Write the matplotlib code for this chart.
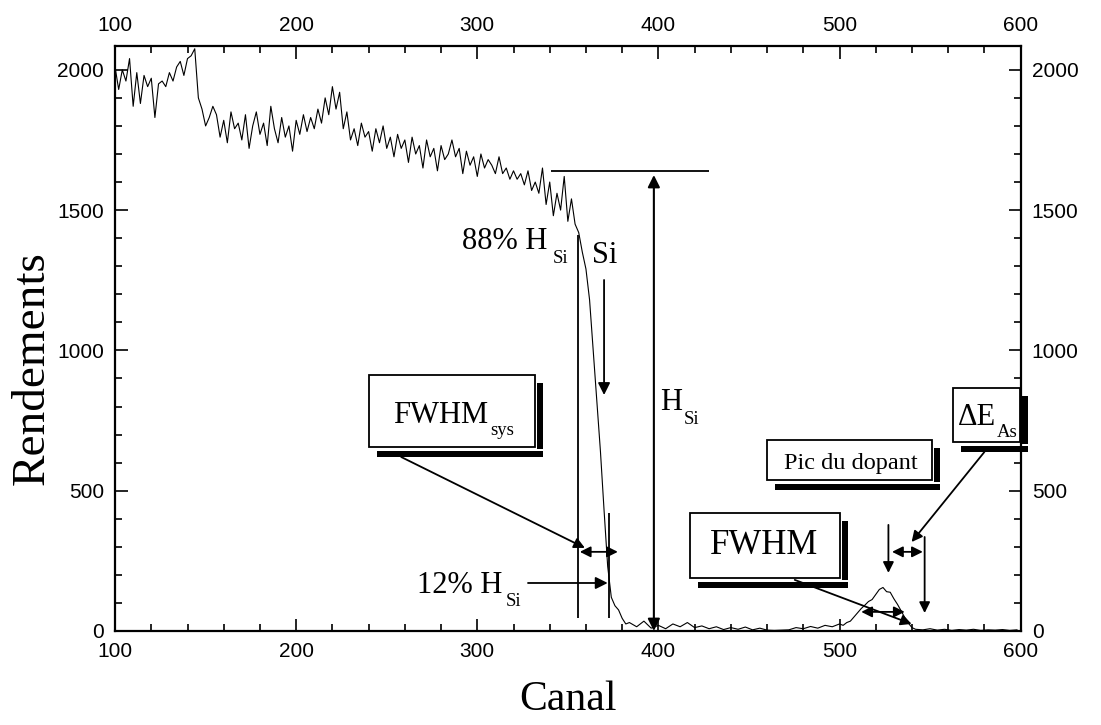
import numpy as np
import matplotlib
matplotlib.use('Agg')
import matplotlib.pyplot as plt
from matplotlib.patches import Rectangle

# spectre RBS : canaux 100-382 (pas de 2)
canal_si = np.arange(100, 384, 2)
rendement_si = [
    2010, 1930, 2000, 1960, 2040, 1870, 1990, 1880, 1980, 1940,
    1970, 1830, 1950, 1960, 1940, 1990, 1960, 2010, 2030, 1980,
    2040, 2050, 2075, 1900, 1860, 1800, 1830, 1870, 1840, 1760,
    1820, 1740, 1850, 1790, 1810, 1750, 1840, 1720, 1800, 1850,
    1770, 1810, 1730, 1870, 1790, 1740, 1830, 1760, 1800, 1710,
    1820, 1770, 1840, 1780, 1830, 1790, 1860, 1810, 1900, 1840,
    1940, 1860, 1920, 1790, 1850, 1750, 1790, 1730, 1810, 1760,
    1780, 1710, 1790, 1740, 1800, 1720, 1760, 1690, 1770, 1720,
    1750, 1670, 1760, 1700, 1730, 1650, 1750, 1690, 1720, 1640,
    1730, 1680, 1700, 1750, 1690, 1720, 1630, 1710, 1660, 1690,
    1620, 1700, 1650, 1680, 1660, 1630, 1690, 1630, 1650, 1610,
    1640, 1610, 1630, 1590, 1640, 1570, 1600, 1560, 1650, 1520,
    1600, 1480, 1560, 1500, 1620, 1460, 1540, 1450, 1420, 1350,
    1290, 1180, 1000, 820, 640, 430, 230, 120, 90, 75,
    45, 25,
]

# fond apres le front du Si (pas de 4)
canal_fond = np.arange(384, 504, 4)
rendement_fond = [
    30, 15, 35, 10, 20, 8, 25, 15, 30, 12,
    18, 8, 15, 5, 12, 6, 14, 4, 10, 3,
    2, 3, 4, 12, 8, 16, 10, 20, 15, 25,
]

# pic du dopant (As)
canal_pic = np.arange(502, 544, 2)
rendement_pic = [
    20, 30, 35, 50, 65, 80, 92, 105, 112, 130,
    148, 155, 140, 138, 115, 95, 72, 48, 28, 12, 6,
]

canal_queue = np.arange(546, 600, 4)
rendement_queue = [4, 8, 3, 6, 2, 5, 3, 6, 2, 4, 3, 5, 2, 4]

canal = np.concatenate([canal_si, canal_fond, canal_pic, canal_queue])
rendement = np.concatenate([rendement_si, rendement_fond, rendement_pic, rendement_queue])

serif = 'Liberation Serif'
sans = 'Liberation Sans'

fig = plt.figure(figsize=(11.01, 7.25), dpi=100)
ax = fig.add_axes([0.1045, 0.1297, 0.8225, 0.8069])

ax.plot(canal, rendement, color='k', lw=0.8)

ax.set_xlim(100, 600)
ax.set_ylim(0, 2085)
ax.set_xticks(np.arange(100, 601, 100))
ax.set_xticks(np.arange(100, 601, 20), minor=True)
ax.set_yticks(np.arange(0, 2001, 500))
ax.set_yticks(np.arange(0, 2001, 100), minor=True)
ax.tick_params(which='both', direction='in', top=True, right=True,
               labeltop=True, labelright=True, width=1.2)
ax.tick_params(which='major', length=9, pad=8, labelsize=15)
ax.tick_params(which='minor', length=5)
for lab in ax.xaxis.get_ticklabels() + ax.yaxis.get_ticklabels():
    lab.set_family(sans)
for s in ax.spines.values():
    s.set_linewidth(1.6)

ax.set_xlabel('Canal', family=serif, fontsize=30, labelpad=14)
ax.set_ylabel('Rendements', family=serif, fontsize=34)
ax.yaxis.set_label_coords(-0.068, 0.45)


def texte(x, y, t, taille, sx=None, sy=None, sub=None, ha='left'):
    # texte principal + indice place a part (plus bas que mathtext)
    ax.text(x, y, t, family=serif, fontsize=taille, ha=ha, zorder=6)
    if sub:
        ax.text(sx, sy, sub, family=serif, fontsize=13.5, zorder=6)


# hauteur du front Si
ax.hlines(1640, 340.5, 428, color='k', lw=1.3)
ax.annotate('', xy=(397.5, 1625), xytext=(397.5, 0),
            arrowprops=dict(arrowstyle='<|-|>', color='k', lw=1.5,
                            mutation_scale=18, shrinkA=0, shrinkB=0))
texte(400.8, 788, 'H', 22, 414, 738, 'Si')

# 88 % et 12 %
ax.vlines(355.5, 46, 1412, color='k', lw=1.3)
ax.vlines(373, 46, 420, color='k', lw=1.3)
texte(291.4, 1362, '88% H', 22, 341.8, 1312, 'Si')
texte(363.2, 1312, 'Si', 22)
ax.annotate('', xy=(370, 841), xytext=(370, 1251),
            arrowprops=dict(arrowstyle='-|>', color='k', lw=1.3,
                            mutation_scale=18, shrinkA=0, shrinkB=0))
texte(266.7, 135, '12% H', 22, 315.5, 88, 'Si')
ax.annotate('', xy=(372, 171), xytext=(328, 171),
            arrowprops=dict(arrowstyle='-|>', color='k', lw=1.3,
                            mutation_scale=18, shrinkA=0, shrinkB=0))


def boite(x, y, w, h):
    # boite blanche avec ombre noire a droite et en bas
    ax.add_patch(Rectangle((x + w + 1.2, y - 7), 3.3, h - 22, fc='k', ec='none',
                           zorder=4, clip_on=False))
    ax.add_patch(Rectangle((x + 4.4, y - 36), w + 0.1, 21, fc='k', ec='none',
                           zorder=4, clip_on=False))
    ax.add_patch(Rectangle((x, y), w, h, fc='white', ec='k', lw=1.3,
                           zorder=5, clip_on=False))


def fleche(x0, y0, x1, y1, style='-|>'):
    ax.annotate('', xy=(x1, y1), xytext=(x0, y0), zorder=7,
                arrowprops=dict(arrowstyle=style, color='k', lw=1.3,
                                mutation_scale=16, shrinkA=0, shrinkB=0))


# FWHM systeme
boite(240, 656, 92, 257)
texte(253.4, 742, 'FWHM', 22, 307, 700, 'sys')
fleche(258, 620, 359.4, 296)
fleche(356.6, 282, 377.6, 282, '<|-|>')

# FWHM du pic
boite(417.3, 189, 83, 232)
texte(458.5, 274, 'FWHM', 25, ha='center')
fleche(475.3, 182, 539.8, 25)
fleche(512, 68, 536, 68, '<|-|>')

# pic du dopant
boite(460, 538, 91, 143)
texte(506.2, 577, 'Pic du dopant', 17.5, ha='center')

# Delta E As
boite(562.5, 674, 37, 192)
texte(565.2, 734, '\u0394E', 22, 587, 690, 'As')
fleche(580, 638, 539.8, 317)
fleche(529, 282, 546, 282, '<|-|>')
fleche(527, 378, 527, 207)
fleche(547, 335, 547, 64)

fig.savefig('out.png', dpi=100)
